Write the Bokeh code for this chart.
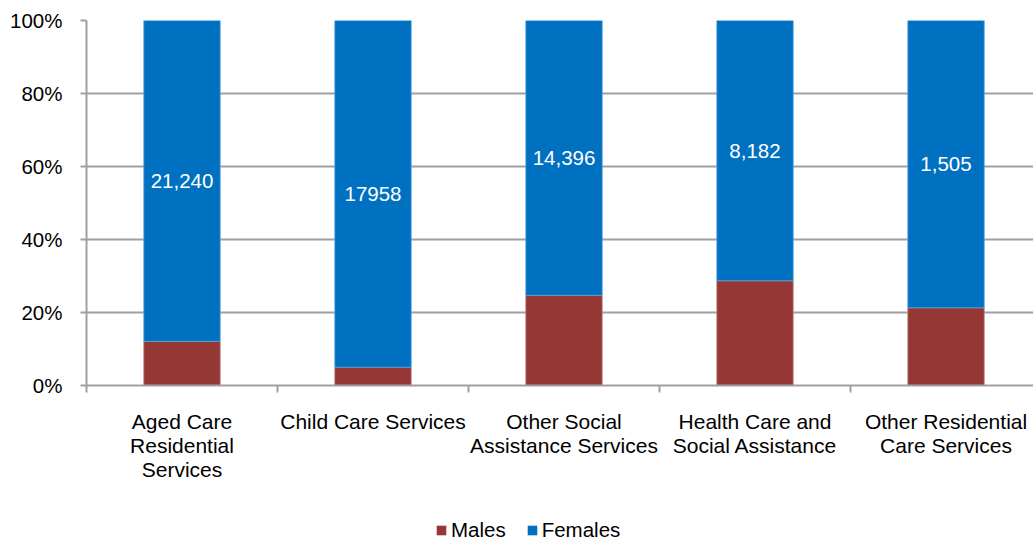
from bokeh.plotting import figure
from bokeh.layouts import column
from bokeh.models import ColumnDataSource, FixedTicker, Legend, LegendItem, LabelSet, Range1d
from bokeh.core.properties import value
from bokeh.embed import file_html
from bokeh.resources import INLINE

categories = ["Aged Care\nResidential\nServices", "Child Care Services",
              "Other Social\nAssistance Services", "Health Care and\nSocial Assistance",
              "Other Residential\nCare Services"]
males_share = [0.121, 0.050, 0.247, 0.287, 0.213]
female_counts = ["21,240", "17958", "14,396", "8,182", "1,505"]
series_names = ["Males", "Females"]
y_ticks = [0, 0.2, 0.4, 0.6, 0.8, 1.0]
y_tick_labels = ["0%", "20%", "40%", "60%", "80%", "100%"]

MALE = "#953735"
FEMALE = "#0070C0"
GRID = "#A0A0A0"
FONT = "Liberation Sans"
FS = "21px"

xs = list(range(len(categories)))
src = ColumnDataSource(dict(
    x=xs,
    m=males_share,
    top=[1.0] * len(xs),
    mid=[(m + 1.0) / 2 for m in males_share],
    lab=female_counts,
    zero=[0.0] * len(xs),
))

p = figure(width=1033, height=500, output_backend="svg", toolbar_location=None,
           x_range=Range1d(-0.5, 4.458), y_range=Range1d(0, 1),
           min_border_left=86, min_border_right=0, min_border_top=20, min_border_bottom=115)
p.outline_line_color = None
p.background_fill_color = "white"

p.vbar(x="x", bottom="zero", top="m", width=0.40, source=src,
       fill_color=MALE, line_color="#C08080", line_width=0.8)
p.vbar(x="x", bottom="m", top="top", width=0.40, source=src,
       fill_color=FEMALE, line_color="#4FA3E0", line_width=0.8)

labels = LabelSet(x="x", y="mid", text="lab", source=src, text_color="white",
                  text_font=value(FONT), text_font_size="20.5px", text_align="center",
                  text_baseline="middle")
p.add_layout(labels)

# axes
p.xaxis.ticker = FixedTicker(ticks=xs, minor_ticks=[i - 0.5 for i in range(len(xs) + 1)])
p.xaxis.major_label_overrides = {i: c for i, c in enumerate(categories)}
p.xaxis.major_tick_line_color = None
p.xaxis.minor_tick_line_color = GRID
p.xaxis.minor_tick_line_width = 2
p.xaxis.minor_tick_in = 0
p.xaxis.minor_tick_out = 7
p.xaxis.axis_line_color = GRID
p.xaxis.axis_line_width = 2
p.xaxis.major_label_text_font = FONT
p.xaxis.major_label_text_font_size = FS
p.xaxis.major_label_text_color = "#000000"
p.xaxis.major_label_text_line_height = 1.05
p.xaxis.major_label_standoff = 17

p.yaxis.ticker = FixedTicker(ticks=y_ticks, minor_ticks=[])
p.yaxis.major_label_overrides = {t: l for t, l in zip(y_ticks, y_tick_labels)}
p.yaxis.major_tick_line_color = GRID
p.yaxis.major_tick_line_width = 2
p.yaxis.major_tick_in = 0
p.yaxis.major_tick_out = 6
p.yaxis.axis_line_color = GRID
p.yaxis.axis_line_width = 2
p.yaxis.major_label_text_font = FONT
p.yaxis.major_label_text_font_size = "20.5px"
p.yaxis.major_label_text_color = "#000000"
p.yaxis.major_label_standoff = 18

p.xgrid.grid_line_color = None
p.ygrid.ticker = FixedTicker(ticks=y_ticks)
p.ygrid.grid_line_color = GRID
p.ygrid.grid_line_width = 2

# legend strip (zero-size bars only carry the legend swatches)
pl = figure(width=1033, height=41, output_backend="svg", toolbar_location=None,
            x_range=Range1d(0, 1), y_range=Range1d(0, 1),
            min_border_left=0, min_border_right=0, min_border_top=0, min_border_bottom=0)
pl.axis.visible = False
pl.grid.visible = False
pl.outline_line_color = None
swatch = ColumnDataSource(dict(x=[0.5], y=[0.0]))
lm = pl.vbar(x="x", top="y", bottom="y", width=0, source=swatch,
             fill_color=MALE, line_color=None)
lf = pl.vbar(x="x", top="y", bottom="y", width=0, source=swatch,
             fill_color=FEMALE, line_color=None)
legend = Legend(items=[LegendItem(label=series_names[0], renderers=[lm]),
                       LegendItem(label=series_names[1], renderers=[lf])],
                orientation="horizontal", location=(349, -1),
                glyph_width=12, glyph_height=12, label_standoff=4, spacing=20,
                padding=0, margin=0, border_line_color=None, background_fill_alpha=0,
                label_text_font=FONT, label_text_font_size="20.5px", label_text_color="#000000")
pl.add_layout(legend, "center")

layout = column(p, pl, spacing=0)
open("out.html", "w").write(file_html(layout, INLINE))
